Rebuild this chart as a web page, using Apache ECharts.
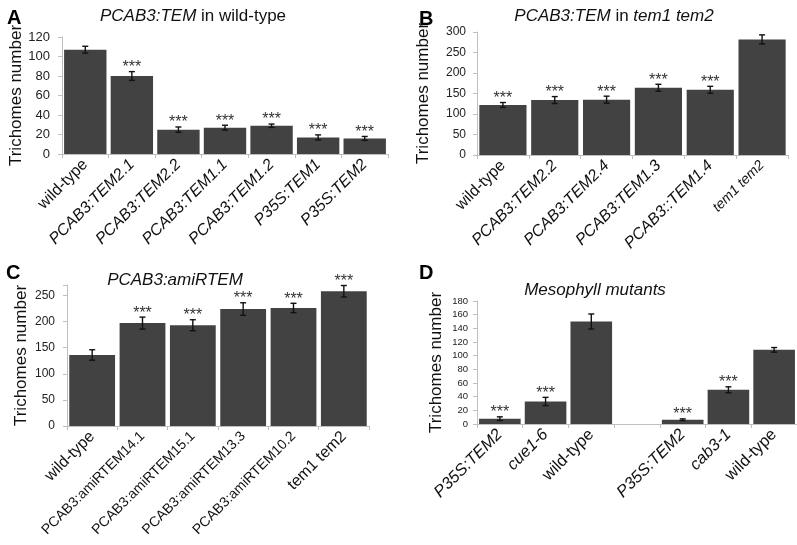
<!DOCTYPE html>
<html><head><meta charset="utf-8">
<script src="https://cdn.jsdelivr.net/npm/echarts@6/dist/echarts.min.js"></script>
<style>html,body{margin:0;padding:0;background:#fff}#c{width:797px;height:545px}</style>
</head><body><div id="c"></div>
<script>
// Panel A
const catsA = ['wild-type','PCAB3:TEM2.1','PCAB3:TEM2.2','PCAB3:TEM1.1','PCAB3:TEM1.2','P35S:TEM1','P35S:TEM2'];
const valsA = [107, 80, 25, 27, 29, 17, 16];
const errsA = [3.5, 4.5, 2.7, 2.5, 1.7, 2.6, 2];
const starsA = ['', '***', '***', '***', '***', '***', '***'];
const ticksA = {min: 0, max: 120, interval: 20};
// Panel B
const catsB = ['wild-type','PCAB3:TEM2.2','PCAB3:TEM2.4','PCAB3:TEM1.3','PCAB3::TEM1.4','tem1 tem2'];
const valsB = [122, 134, 135, 164, 159, 282];
const errsB = [6, 8.5, 8.5, 8.5, 8.5, 11];
const starsB = ['***', '***', '***', '***', '***', ''];
const ticksB = {min: 0, max: 300, interval: 50};
// Panel C
const catsC = ['wild-type','PCAB3:amiRTEM14.1','PCAB3:amiRTEM15.1','PCAB3:amiRTEM13.3','PCAB3:amiRTEM10.2','tem1 tem2'];
const valsC = [136, 197, 193, 224, 226, 258];
const errsC = [10, 11.5, 10.5, 12, 9, 11];
const starsC = ['', '***', '***', '***', '***', '***'];
const ticksC = {min: 0, max: 270, interval: 50};
// Panel D
const catsD = ['P35S:TEM2','cue1-6','wild-type','','P35S:TEM2','cab3-1','wild-type'];
const valsD = [7.8, 33, 150, null, 6.3, 50, 108.5];
const errsD = [2.7, 6, 11, 0, 1.2, 4.4, 3.4];
const starsD = ['***', '***', '', '', '***', '***', ''];
const ticksD = {min: 0, max: 180, interval: 20};

const FF = '"Liberation Sans", Arial, Helvetica, sans-serif';
const BAR = '#424242';
const AX = '#bfbfbf';

function catItems(cats, styleFn) {
  return cats.map((c, i) => ({value: c, textStyle: styleFn(c, i)}));
}
const italicExceptWT = (size) => (c) => ({fontStyle: c === 'wild-type' ? 'normal' : 'italic', fontSize: size});

const xData = [
  catItems(catsA, italicExceptWT(16)),
  catItems(catsB, (c) => c === 'tem1 tem2' ? {fontStyle: 'italic', fontSize: 14} : {fontStyle: c === 'wild-type' ? 'normal' : 'italic', fontSize: 16}),
  catItems(catsC, (c) => (c === 'wild-type' || c === 'tem1 tem2') ? {fontStyle: 'normal', fontSize: 16} : {fontStyle: 'normal', fontSize: 14}),
  catItems(catsD, italicExceptWT(16.5))
];

const grids = [
  {left: 62, top: 37, width: 326, height: 117},
  {left: 477, top: 32, width: 311, height: 123},
  {left: 67, top: 285, width: 302, height: 141},
  {left: 477, top: 301, width: 320, height: 123}
];
const yTicks = [ticksA, ticksB, ticksC, ticksD];
const yFont = [13, 12, 12, 9.5];
const yMargin = [12, 11, 12, 9];
const nameGap = [34, 45, 37, 32];

const xAxes = xData.map((d, i) => ({
  type: 'category', gridIndex: i, data: d,
  axisLine: {lineStyle: {color: AX, width: 1}},
  axisTick: {show: true, length: 4, lineStyle: {color: AX}},
  axisLabel: {interval: 0, rotate: 45, margin: 8, color: '#111', fontFamily: FF}
}));
const yAxes = yTicks.map((t, i) => ({
  type: 'value', gridIndex: i, min: t.min, max: t.max, interval: t.interval,
  name: 'Trichomes number', nameLocation: 'middle', nameGap: nameGap[i],
  nameTextStyle: {fontSize: 17, color: '#111', fontFamily: FF},
  splitLine: {show: false},
  axisLine: {show: true, lineStyle: {color: AX, width: 1}},
  axisTick: {show: true, length: 4, lineStyle: {color: AX}},
  axisLabel: {fontSize: yFont[i], color: '#222', fontFamily: FF, margin: yMargin[i],
    formatter: (v) => (v % t.interval === 0 ? String(v) : '')}
}));

function barSeries(i, vals) {
  return {type: 'bar', xAxisIndex: i, yAxisIndex: i, data: vals, barCategoryGap: '9%',
    itemStyle: {color: BAR}, silent: true, animation: false};
}
function errSeries(i, vals, errs, stars) {
  const data = [];
  vals.forEach((v, k) => { if (v != null) data.push([k, v, errs[k]]); });
  return {
    type: 'custom', xAxisIndex: i, yAxisIndex: i, data: data, animation: false, silent: true,
    encode: {x: 0, y: 1}, z: 5,
    renderItem: function (params, api) {
      const k = api.value(0), v = api.value(1), e = api.value(2);
      const top = api.coord([k, v + e]);
      const bot = api.coord([k, v - e]);
      const x = top[0], cap = 3;
      const st = {stroke: '#111', lineWidth: 1.4};
      const ch = [
        {type: 'line', shape: {x1: x, y1: top[1], x2: x, y2: bot[1]}, style: st},
        {type: 'line', shape: {x1: x - cap, y1: top[1], x2: x + cap, y2: top[1]}, style: st},
        {type: 'line', shape: {x1: x - cap, y1: bot[1], x2: x + cap, y2: bot[1]}, style: st}
      ];
      const s = stars[k];
      if (s) ch.push({type: 'text', style: {text: s, x: x, y: top[1] - 4, align: 'center', verticalAlign: 'middle',
        font: '16px ' + FF, fill: '#333'}});
      return {type: 'group', children: ch};
    }
  };
}

const titleStyle = {fontSize: 17, color: '#111', fontFamily: FF, fontWeight: 'normal',
  rich: {i: {fontStyle: 'italic', fontSize: 17, color: '#111', fontFamily: FF}, n: {fontSize: 17, color: '#111', fontFamily: FF}}};
const letterStyle = {fontSize: 20, fontWeight: 'bold', color: '#000', fontFamily: FF};

const option = {
  animation: false,
  title: [
    {text: 'A', left: 2, top: 3, textStyle: letterStyle},
    {text: 'B', left: 414, top: 4, textStyle: letterStyle},
    {text: 'C', left: 1, top: 258, textStyle: letterStyle},
    {text: 'D', left: 414, top: 258, textStyle: letterStyle},
    {text: '{i|PCAB3:TEM}{n| in wild-type}', left: 188, top: 3, textAlign: 'center', textStyle: titleStyle},
    {text: '{i|PCAB3:TEM}{n| in }{i|tem1 tem2}', left: 609, top: 3, textAlign: 'center', textStyle: titleStyle},
    {text: '{i|PCAB3:amiRTEM}', left: 170, top: 267, textAlign: 'center', textStyle: titleStyle},
    {text: '{i|Mesophyll mutants}', left: 590, top: 277, textAlign: 'center', textStyle: titleStyle}
  ],
  grid: grids,
  xAxis: xAxes,
  yAxis: yAxes,
  series: [
    barSeries(0, valsA), errSeries(0, valsA, errsA, starsA),
    barSeries(1, valsB), errSeries(1, valsB, errsB, starsB),
    barSeries(2, valsC), errSeries(2, valsC, errsC, starsC),
    barSeries(3, valsD), errSeries(3, valsD, errsD, starsD)
  ]
};
const chart = echarts.init(document.getElementById('c'), null, {renderer: 'canvas'});
chart.setOption(option);
</script></body></html>
